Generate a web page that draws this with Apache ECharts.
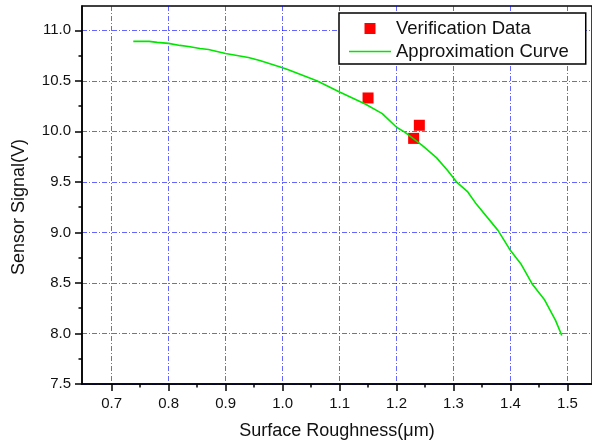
<!DOCTYPE html>
<html>
<head>
<meta charset="utf-8">
<script src="https://cdn.jsdelivr.net/npm/echarts@6/dist/echarts.min.js"></script>
<style>
  html, body { margin: 0; padding: 0; background: #fff; }
  #chart { width: 592px; height: 446px; }
</style>
</head>
<body>
<div id="chart"></div>
<script>
// approximation curve
const curveX = [0.738, 0.766, 0.78, 0.80, 0.82, 0.835, 0.855, 0.87, 0.90, 0.94, 0.96, 1.00, 1.01, 1.06, 1.10,
                1.145, 1.175, 1.20, 1.215, 1.245, 1.27, 1.29, 1.305, 1.325, 1.34, 1.378, 1.40, 1.418, 1.438, 1.46, 1.479, 1.49];
const curveY = [10.89, 10.89, 10.88, 10.87, 10.85, 10.84, 10.82, 10.81, 10.77, 10.73, 10.70, 10.63, 10.61, 10.50, 10.39,
                10.27, 10.175, 10.04, 9.99, 9.86, 9.74, 9.61, 9.50, 9.40, 9.28, 9.02, 8.82, 8.69, 8.49, 8.33, 8.13, 7.98];
// verification points
const verifyX = [1.15, 1.24, 1.23];
const verifyY = [10.33, 10.06, 9.93];

// ticks
const xTicks = [0.7, 0.8, 0.9, 1.0, 1.1, 1.2, 1.3, 1.4, 1.5];
const xMinorTicks = [0.75, 0.85, 0.95, 1.05, 1.15, 1.25, 1.35, 1.45];
const yTicks = [7.5, 8.0, 8.5, 9.0, 9.5, 10.0, 10.5, 11.0];
const yMinorTicks = [7.75, 8.25, 8.75, 9.25, 9.75, 10.25, 10.75];

const pair = (xs, ys) => xs.map((x, i) => [x, ys[i]]);

const font = "'Liberation Sans', Arial, sans-serif";
const xMin = 0.648, xMax = 1.543, yMin = 7.5, yMax = 11.24;

const chart = echarts.init(document.getElementById('chart'));
const option = {
    animation: false,
    backgroundColor: '#fff',
    textStyle: { fontFamily: font, color: '#111' },
    grid: {
        left: 82, right: -3, top: 6, bottom: 62,
        show: true, borderColor: '#000', borderWidth: 1.5
    },
    legend: {
        data: [
            { name: 'Verification Data', icon: 'path://M0,0H10V10H0Z' },
            { name: 'Approximation Curve', icon: 'path://M0,0H42V1.6H0Z' }
        ],
        orient: 'vertical',
        left: 339, top: 13,
        padding: [6, 17, 3, 10],
        itemGap: 4,
        itemWidth: 42,
        itemHeight: 11,
        backgroundColor: '#fff',
        borderColor: '#000',
        borderWidth: 1.5,
        borderRadius: 0,
        textStyle: { fontFamily: font, fontSize: 18.5, color: '#111' }
    },
    xAxis: [
        {
            type: 'value', min: xMin, max: xMax, position: 'bottom',
            name: 'Surface Roughness(\u03bcm)', nameLocation: 'middle', nameGap: 38,
            nameTextStyle: { fontFamily: font, fontSize: 18, color: '#111' },
            axisLine: { show: true, lineStyle: { color: '#000', width: 1.5 } },
            axisTick: { show: true, customValues: xTicks, length: 7, lineStyle: { color: '#000', width: 1.5 } },
            axisLabel: {
                customValues: xTicks, margin: 12, fontSize: 15, color: '#111', fontFamily: font,
                formatter: v => v.toFixed(1)
            },
            splitLine: { show: true, lineStyle: { color: 'rgba(0,0,255,0.6)', width: 1, type: [5, 2, 1, 2] } }
        },
        {
            type: 'value', min: xMin, max: xMax, position: 'bottom',
            axisLine: { show: false },
            axisTick: { show: true, customValues: xMinorTicks, length: 3.5, lineStyle: { color: '#000', width: 1.5 } },
            axisLabel: { show: false },
            splitLine: { show: false }
        }
    ],
    yAxis: [
        {
            type: 'value', min: yMin, max: yMax, position: 'left',
            name: 'Sensor Signal(V)', nameLocation: 'middle', nameGap: 54,
            nameTextStyle: { fontFamily: font, fontSize: 18, color: '#111', padding: [0, 24, 0, 0] },
            axisLine: { show: true, lineStyle: { color: '#000', width: 1.5 } },
            axisTick: { show: true, customValues: yTicks, length: 7, lineStyle: { color: '#000', width: 1.5 } },
            axisLabel: {
                customValues: yTicks, margin: 11, fontSize: 15, color: '#111', fontFamily: font,
                formatter: v => v.toFixed(1)
            },
            splitLine: { show: true, lineStyle: { color: 'rgba(0,0,255,0.6)', width: 1, type: [5, 2, 1, 2] } }
        },
        {
            type: 'value', min: yMin, max: yMax, position: 'left',
            axisLine: { show: false },
            axisTick: { show: true, customValues: yMinorTicks, length: 3.5, lineStyle: { color: '#000', width: 1.5 } },
            axisLabel: { show: false },
            splitLine: { show: false }
        }
    ],
    series: [
        {
            name: 'Verification Data',
            type: 'scatter',
            symbol: 'rect',
            symbolSize: 11,
            itemStyle: { color: '#ff0000', opacity: 1 },
            data: pair(verifyX, verifyY)
        },
        {
            name: 'Approximation Curve',
            type: 'line',
            symbol: 'none',
            lineStyle: { color: '#00e600', width: 1.6 },
            itemStyle: { color: '#00e600' },
            data: pair(curveX, curveY)
        }
    ]
};
chart.setOption(option);
</script>
</body>
</html>
